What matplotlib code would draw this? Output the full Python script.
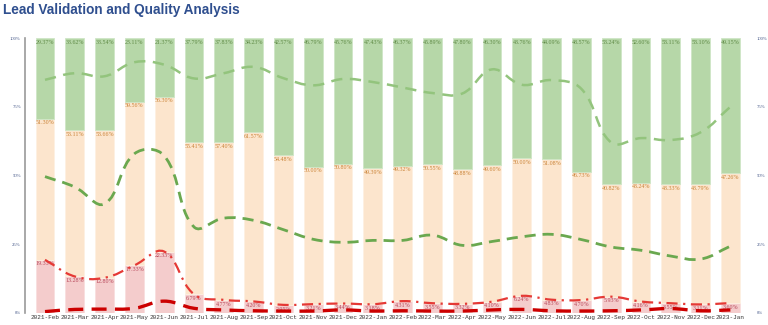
import numpy as np
import matplotlib.pyplot as plt
from matplotlib.path import Path
from matplotlib.patches import PathPatch

months = ['2021-Feb', '2021-Mar', '2021-Apr', '2021-May', '2021-Jun', '2021-Jul',
          '2021-Aug', '2021-Sep', '2021-Oct', '2021-Nov', '2021-Dec', '2022-Jan',
          '2022-Feb', '2022-Mar', '2022-Apr', '2022-May', '2022-Jun', '2022-Jul',
          '2022-Aug', '2022-Sep', '2022-Oct', '2022-Nov', '2022-Dec', '2023-Jan']

# stacked shares (%), bottom to top
rejected = [19.33, 13.28, 12.80, 17.33, 22.33, 6.79, 4.77, 4.20, 2.95, 3.21, 3.44, 3.18,
            4.31, 3.55, 3.32, 4.10, 6.24, 4.83, 4.70, 5.93, 4.16, 3.55, 3.11, 3.60]
validated = [51.30, 53.11, 53.66, 59.56, 56.30, 55.41, 57.40, 61.57, 54.48, 50.00, 50.80, 49.39,
             49.32, 50.55, 48.88, 49.60, 50.00, 51.08, 46.73, 40.82, 43.24, 43.33, 43.79, 47.26]
qualified = [29.37, 33.62, 33.54, 23.11, 21.37, 37.79, 37.83, 34.23, 42.57, 46.79, 45.76, 47.43,
             46.37, 45.89, 47.80, 46.30, 43.76, 44.09, 48.57, 53.24, 52.60, 53.11, 53.10, 49.15]

# rate lines (right axis, %)
contact_rate = [84.8, 87.2, 86.1, 91.2, 90.3, 85.3, 87.2, 89.5, 85.4, 82.8, 85.1, 84.0,
                82.0, 80.0, 79.8, 88.6, 83.0, 84.7, 81.5, 62.0, 63.6, 62.9, 65.7, 75.0]
conversion_rate = [49.6, 45.8, 39.7, 57.9, 57.2, 31.3, 34.5, 33.7, 30.3, 26.8, 25.7, 26.4,
                   26.4, 28.3, 24.6, 26.0, 27.7, 28.6, 26.7, 24.0, 22.8, 20.7, 19.6, 24.3]
duplicate_rate = [0.5, 1.3, 1.4, 1.7, 4.3, 1.7, 1.1, 0.8, 0.7, 0.7, 1.1, 0.7,
                  0.8, 0.7, 0.7, 1.1, 1.3, 0.8, 0.7, 0.8, 1.1, 1.6, 0.8, 1.1]

GREEN = '#b6d7a8'
PEACH = '#fce5cd'
PINK = '#f4cccc'


def spline_path(xs, ys, tension=0.4, kx=29.8, ky=2.76):
    # cubic bezier through every point, same control points as a chart.js tension curve
    px = np.asarray(xs, float) * kx
    py = np.asarray(ys, float) * ky
    n = len(px)
    before, after = [], []
    for i in range(n):
        p0 = (px[max(i - 1, 0)], py[max(i - 1, 0)])
        p2 = (px[min(i + 1, n - 1)], py[min(i + 1, n - 1)])
        d01 = np.hypot(px[i] - p0[0], py[i] - p0[1])
        d12 = np.hypot(p2[0] - px[i], p2[1] - py[i])
        tot = d01 + d12
        s01 = d01 / tot if tot else 0
        s12 = d12 / tot if tot else 0
        dx, dy = p2[0] - p0[0], p2[1] - p0[1]
        before.append((px[i] - tension * s01 * dx, py[i] - tension * s01 * dy))
        after.append((px[i] + tension * s12 * dx, py[i] + tension * s12 * dy))
    verts = [(px[0], py[0])]
    codes = [Path.MOVETO]
    for i in range(n - 1):
        verts += [after[i], before[i + 1], (px[i + 1], py[i + 1])]
        codes += [Path.CURVE4] * 3
    verts = [(vx / kx, vy / ky) for vx, vy in verts]
    return Path(verts, codes)


fig = plt.figure(figsize=(7.68, 3.25), dpi=100)
ax = fig.add_axes([0.0326, 0.037, 0.9444, 0.846])
ax2 = ax.twinx()

x = np.arange(len(months))
w = 0.63
bottom2 = np.array(rejected) + np.array(validated)
ax.bar(x, rejected, w, color=PINK, edgecolor='#f8dede', linewidth=0.6, zorder=1)
ax.bar(x, validated, w, bottom=rejected, color=PEACH, edgecolor='#fdf0e2', linewidth=0.6, zorder=1)
ax.bar(x, qualified, w, bottom=bottom2, color=GREEN, edgecolor='#cfe6c6', linewidth=0.6, zorder=1)

lab = dict(ha='center', va='top', fontsize=4.3, family='Liberation Serif', zorder=3)
for i in x:
    ax.text(i, rejected[i] - 0.6, f'{rejected[i]:.2f}%', color='#b8485a', **lab)
    ax.text(i, bottom2[i] - 0.6, f'{validated[i]:.2f}%', color='#c98236', **lab)
    ax.text(i, 99.2, f'{qualified[i]:.2f}%', color='#5f8a46', **lab)

lines = [
    (contact_rate, '#93c47d', 1.8, (0, (4.5, 3.0))),
    (conversion_rate, '#6aa84f', 2.0, (0, (4.0, 2.5))),
    (rejected, '#e53935', 1.6, (0, (5.0, 2.5, 1.0, 2.5))),
    (duplicate_rate, '#cc0000', 2.4, (0, (4.5, 2.5))),
]
for vals, col, lw, ls in lines:
    patch = PathPatch(spline_path(x, vals), fill=False, edgecolor=col, linewidth=lw,
                      linestyle=ls, capstyle='butt', zorder=4)
    ax2.add_patch(patch)

for a in (ax, ax2):
    a.set_xlim(-0.67, len(months) - 1 + 0.67)
    a.set_ylim(0, 100)
    a.set_yticks([0, 25, 50, 75, 100])
    a.set_yticklabels(['0%', '25%', '50%', '75%', '100%'])
    for s in a.spines.values():
        s.set_visible(False)
    a.tick_params(axis='y', length=0, pad=3, labelsize=3.4, labelcolor='#4b5d8c')
    for t in a.get_yticklabels():
        t.set_family('Liberation Serif')

ax.spines['left'].set_visible(True)
ax.spines['left'].set_color('#9a9a9a')
ax.spines['left'].set_linewidth(1.2)
ax2.tick_params(axis='y', pad=4.5)

ax.set_xticks(x)
ax.set_xticklabels(months, family='Liberation Mono', fontsize=4.3, color='#333333')
ax.tick_params(axis='x', length=0, pad=1.5)

fig.text(0.004, 0.992, 'Lead Validation and Quality Analysis', ha='left', va='top',
         fontsize=9.8, fontweight='bold', color='#2f4f8f', family='Liberation Sans')

fig.savefig('out.png', dpi=100)
